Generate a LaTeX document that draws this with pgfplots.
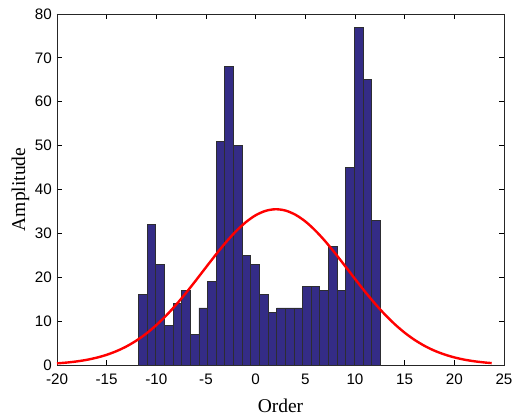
\documentclass[border=0pt]{standalone}
\usepackage{pgfplots}
\pgfplotsset{compat=1.18}
\usepackage{fontspec}
\setmainfont{Liberation Serif}
\newfontfamily\arialfont{Liberation Sans}
\definecolor{barblue}{RGB}{52,44,134}
\definecolor{edgegray}{RGB}{45,45,50}
\begin{document}
\begin{tikzpicture}[x=1pt,y=1pt]
\begin{axis}[
  scale only axis,
  width=447pt, height=351pt,
  xmin=-20, xmax=25, ymin=0, ymax=80,
  xtick={-20,-15,...,25},
  ytick={0,10,...,80},
  tick align=inside,
  major tick length=5pt,
  tick style={line width=0.8pt, black},
  axis line style={line width=0.9pt, black!85},
  /pgf/number format/assume math mode=true,
  tick label style={font=\arialfont\fontsize{15.2}{16}\selectfont, inner sep=0pt},
  xticklabel style={yshift=-9pt},
  yticklabel style={xshift=-5pt},
  xlabel={Order},
  ylabel={Amplitude},
  label style={font=\fontsize{19.5}{21}\selectfont},
  xlabel style={at={(axis description cs:0.5,-0.134)}, anchor=base},
  ylabel style={at={(axis description cs:-0.0715,0.5)}, anchor=base, rotate=0},
  clip=false,
]
\addplot[ybar interval, fill=barblue, draw=edgegray, line width=0.7pt] coordinates {
(-11.790,16) (-10.921,32) (-10.053,23) (-9.184,9) (-8.316,14) (-7.447,17)
(-6.578,7) (-5.710,13) (-4.841,19) (-3.973,51) (-3.104,68) (-2.235,50)
(-1.367,25) (-0.498,23) (0.370,16) (1.239,12) (2.108,13) (2.976,13)
(3.845,13) (4.713,18) (5.582,18) (6.451,17) (7.319,27) (8.188,17)
(9.056,45) (9.925,77) (10.794,65) (11.662,33) (12.531,33)
};
\addplot[red, line width=2.4pt, smooth] coordinates {
(-20,0.371) (-19,0.556) (-18,0.817) (-17,1.179) (-16,1.670) (-15,2.321)
(-14,3.166) (-13,4.239) (-12,5.570) (-11,7.18) (-10,9.09) (-9,11.29)
(-8,13.76) (-7,16.46) (-6,19.33) (-5,22.27) (-4,25.18) (-3,27.95)
(-2,30.44) (-1,32.53) (0,34.13) (1,35.13) (2,35.50) (3,35.20)
(4,34.25) (5,32.72) (6,30.66) (7,28.21) (8,25.46) (9,22.56)
(10,19.62) (11,16.74) (12,14.02) (13,11.53) (14,9.30) (15,7.36)
(16,5.72) (17,4.36) (18,3.26) (19,2.40) (20,1.73) (21,1.22)
(22,0.85) (23,0.58) (23.76,0.43)
};
\end{axis}
\path (current axis.south west) ++(-57pt,-52pt) coordinate (bl);
\path (current axis.north east) ++(11pt,14pt) coordinate (tr);
\path (bl) rectangle (tr);
\end{tikzpicture}
\end{document}
